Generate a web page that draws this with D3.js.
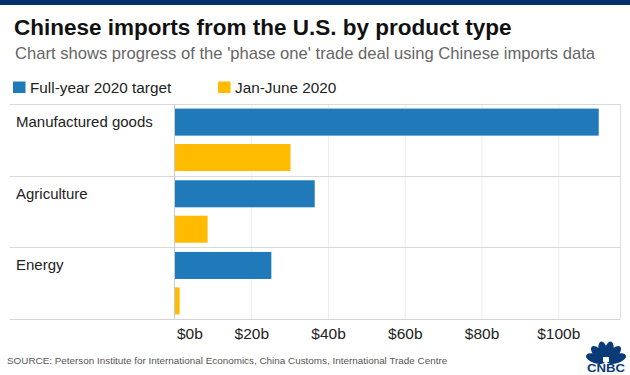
<!DOCTYPE html>
<html>
<head>
<meta charset="utf-8">
<script src="https://cdn.jsdelivr.net/npm/d3@7"></script>
<style>
  html, body { margin: 0; padding: 0; background: #fff; }
  svg { display: block; font-family: "Liberation Sans", Arial, sans-serif; }
</style>
</head>
<body>
<svg id="chart" width="630" height="375"></svg>
<script>
// ---- data ----
const categories = ["Manufactured goods", "Agriculture", "Energy"];
const seriesNames = ["Full-year 2020 target", "Jan-June 2020"];
const targetValues = [110.4, 36.4, 25.1];
const actualValues = [30.1, 8.5, 1.2];
const tickValues = [0, 20, 40, 60, 80, 100];
const tickLabels = ["$0b", "$20b", "$40b", "$60b", "$80b", "$100b"];
const colors = ["#2079b9", "#ffbb00"];

const rows = categories.map((c, i) => ({ category: c, values: [targetValues[i], actualValues[i]] }));

const svg = d3.select("#chart");

// top bar
svg.append("rect").attr("x", 0).attr("y", 0).attr("width", 630).attr("height", 5).attr("fill", "#002f6c");

// title & subtitle
svg.append("text").attr("x", 14).attr("y", 35)
  .attr("font-size", 22.5).attr("font-weight", 700).attr("fill", "#111")
  .text("Chinese imports from the U.S. by product type");
svg.append("text").attr("x", 15).attr("y", 59)
  .attr("font-size", 16.6).attr("fill", "#666")
  .text("Chart shows progress of the 'phase one' trade deal using Chinese imports data");

// legend
const legend = svg.append("g");
const legendX = [13, 218];
seriesNames.forEach((s, i) => {
  legend.append("rect").attr("x", legendX[i]).attr("y", 81.5).attr("width", 12.5).attr("height", 11.5).attr("fill", colors[i]);
  legend.append("text").attr("x", legendX[i] + 17).attr("y", 92.5)
    .attr("font-size", 15.3).attr("fill", "#222").text(s);
});

// scales
const x = d3.scaleLinear().domain([0, 100]).range([174.5, 558.3]);
const y = d3.scaleBand().domain(categories).range([104, 319]).paddingInner(0).paddingOuter(0);
const yInner = d3.scaleBand().domain(seriesNames).range([0, y.bandwidth()]).paddingInner(0.237).paddingOuter(0.13);

// gridlines
svg.append("g").selectAll("line").data(tickValues.slice(1)).join("line")
  .attr("x1", d => x(d) + 0.5).attr("x2", d => x(d) + 0.5)
  .attr("y1", 104).attr("y2", 319)
  .attr("stroke", "#eeeeee").attr("stroke-width", 1);

// right border
svg.append("line").attr("x1", 620.5).attr("x2", 620.5).attr("y1", 104).attr("y2", 319)
  .attr("stroke", "#dddddd");

// row separators
svg.append("g").selectAll("line").data(categories).join("line")
  .attr("x1", 10).attr("x2", 620.5)
  .attr("y1", d => Math.round(y(d)) + 0.5).attr("y2", d => Math.round(y(d)) + 0.5)
  .attr("stroke", "#d9d9d9");
svg.append("line").attr("x1", 10).attr("x2", 620.5).attr("y1", 319.5).attr("y2", 319.5).attr("stroke", "#d4d4d4");

// zero axis
svg.append("line").attr("x1", x(0)).attr("x2", x(0)).attr("y1", 104).attr("y2", 319)
  .attr("stroke", "#cccccc");

// bars
const groups = svg.append("g").selectAll("g").data(rows).join("g")
  .attr("transform", d => `translate(0,${y(d.category)})`);
groups.selectAll("rect").data(d => d.values.map((v, i) => ({ series: seriesNames[i], value: v, i })))
  .join("rect")
  .attr("x", x(0) + 0.5)
  .attr("y", d => yInner(d.series))
  .attr("width", d => x(d.value) - x(0))
  .attr("height", yInner.bandwidth())
  .attr("fill", d => colors[d.i]);

// category labels
svg.append("g").selectAll("text").data(categories).join("text")
  .attr("x", 16).attr("y", d => y(d) + 23)
  .attr("font-size", 15).attr("fill", "#222")
  .text(d => d);

// x axis (labels only)
const xAxis = d3.axisBottom(x).tickValues(tickValues).tickFormat((d, i) => tickLabels[i]).tickSize(0).tickPadding(0);
const axisG = svg.append("g").attr("transform", "translate(0,327)").call(xAxis);
axisG.select(".domain").remove();
axisG.selectAll("text")
  .attr("font-size", 15.5).attr("fill", "#222")
  .attr("font-family", "'Liberation Sans', Arial, sans-serif")
  .attr("dy", "0.8em")
  .attr("text-anchor", (d, i) => i === 0 ? "start" : "middle")
  .attr("dx", (d, i) => i === 0 ? 2 : 0);

// source
svg.append("text").attr("x", 7).attr("y", 364)
  .attr("font-size", 9.9).attr("fill", "#555")
  .text("SOURCE: Peterson Institute for International Economics, China Customs, International Trade Centre");

// CNBC logo (peacock)
const logo = svg.append("g").attr("transform", "translate(606,362)");
const angles = [-72, -43, -14, 14, 43, 72];
logo.selectAll("ellipse").data(angles).join("ellipse")
  .attr("cx", 0).attr("cy", -11).attr("rx", 4.6).attr("ry", 10)
  .attr("transform", a => `rotate(${a})`)
  .attr("fill", "#0b3a78");
logo.append("rect").attr("x", -3).attr("y", -5).attr("width", 6).attr("height", 5).attr("fill", "#fff");
logo.append("text").attr("x", 0).attr("y", 10).attr("text-anchor", "middle")
  .attr("font-size", 10).attr("font-weight", 900).attr("fill", "#0b3a78")
  .attr("font-family", "'Liberation Sans', Arial, sans-serif")
  .attr("textLength", 38).attr("lengthAdjust", "spacingAndGlyphs")
  .text("CNBC");
</script>
</body>
</html>
